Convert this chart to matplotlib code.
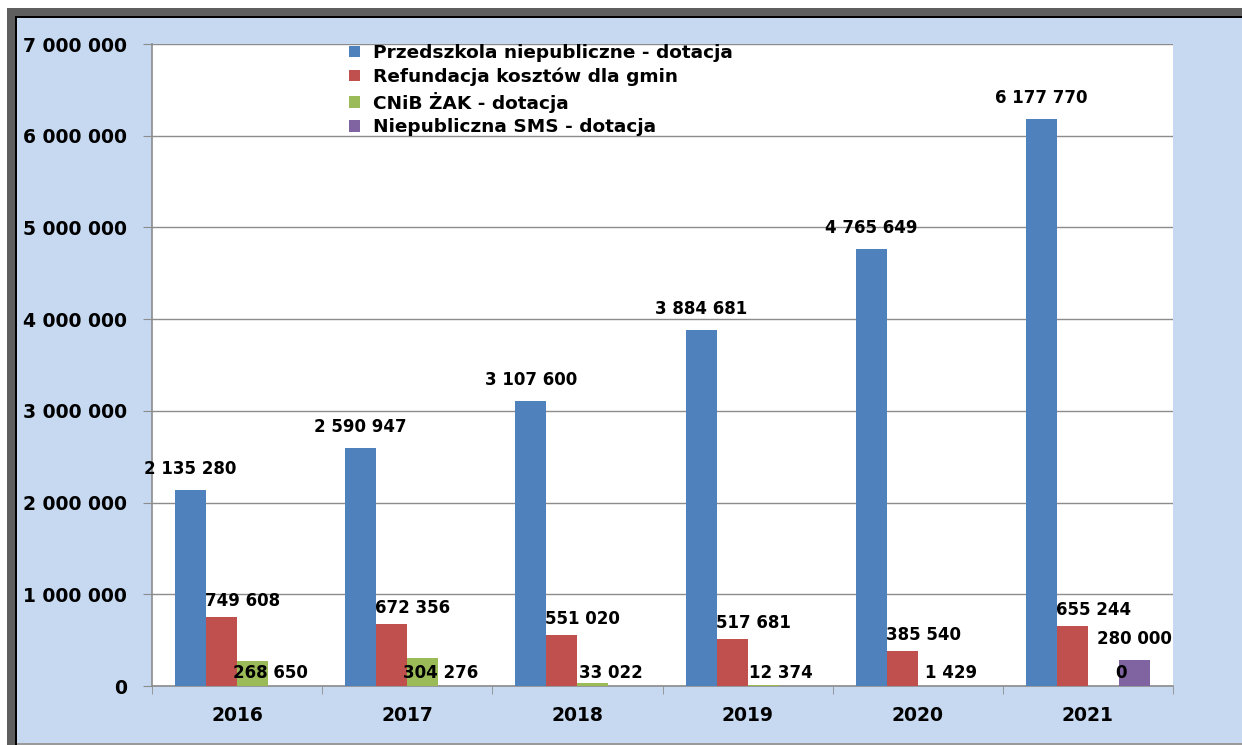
import numpy as np
import matplotlib
matplotlib.use("Agg")
import matplotlib.pyplot as plt
from matplotlib.patches import Rectangle

# Data
years = ["2016", "2017", "2018", "2019", "2020", "2021"]
series_names = ["Przedszkola niepubliczne - dotacja",
                "Refundacja kosztów dla gmin",
                "CNiB ŻAK - dotacja",
                "Niepubliczna SMS - dotacja"]
przedszkola = [2135280, 2590947, 3107600, 3884681, 4765649, 6177770]
refundacja = [749608, 672356, 551020, 517681, 385540, 655244]
cnib_zak = [268650, 304276, 33022, 12374, 1429, 0]
sms = [None, None, None, None, None, 280000]

colors = ["#4F81BD", "#C0504D", "#9BBB59", "#8064A2"]
bg = "#C6D9F1"

fig = plt.figure(figsize=(12.42, 7.45), dpi=100, facecolor=bg)
ax = fig.add_axes([152 / 1242, 1 - 686 / 745, 1021 / 1242, 642 / 745])
ax.set_facecolor("white")

x = np.arange(len(years))
w = 0.182
all_series = [przedszkola, refundacja, cnib_zak, sms]
# label offsets in pixels (dx, dy); green labels sit near the base
offsets = [(0, 21), (21, 16), (18, 13), (0, 21)]

for i, (vals, col) in enumerate(zip(all_series, colors)):
    xs = x + (i - 1.5) * w
    hv = [np.nan if v is None else v for v in vals]
    ax.bar(xs, hv, width=w, color=col, label=series_names[i], zorder=3)
    for xi, v in zip(xs, vals):
        if v is None:
            continue
        ybase = 0 if i == 2 else v
        ax.annotate(f"{v:,}".replace(",", " "), xy=(xi, ybase),
                    xytext=offsets[i], textcoords="offset pixels",
                    ha="center", va="center", fontsize=12,
                    fontweight="bold", color="black", zorder=5)

ax.set_xlim(-0.5, len(years) - 0.5)
ax.set_ylim(0, 7000000)
ticks = np.arange(0, 7000001, 1000000)
ax.set_yticks(ticks)
ax.set_yticklabels([f"{int(v):,}".replace(",", " ") for v in ticks],
                   fontsize=13.5, fontweight="bold")
ax.yaxis.grid(True, color="#8C8C8C", linewidth=1.0, zorder=0)
ax.tick_params(axis="y", length=6.5, color="#8C8C8C", pad=11.5)

ax.set_xticks(x)
ax.set_xticklabels(years, fontsize=13.5, fontweight="bold")
ax.set_xticks(np.arange(-0.5, len(years), 1), minor=True)
ax.tick_params(axis="x", which="major", length=0, pad=14.5)
ax.tick_params(axis="x", which="minor", length=5.8, color="#8C8C8C")

for s in ["top", "right"]:
    ax.spines[s].set_visible(False)
for s in ["left", "bottom"]:
    ax.spines[s].set_color("#8C8C8C")
    ax.spines[s].set_linewidth(1.2)

ax.legend(loc="upper left", bbox_to_anchor=(0.18, 1.02), frameon=False,
          prop={"size": 13.3, "weight": "bold"}, handlelength=0.6,
          handleheight=0.6, handletextpad=0.7, labelspacing=0.3,
          borderpad=0.2)

# screenshot frame on top and left
fig.patches.append(Rectangle((0, 1 - 18 / 745), 1, 10 / 745, transform=fig.transFigure,
                             facecolor="#5F5F5F", edgecolor="none"))
fig.patches.append(Rectangle((0, 1 - 18 / 745), 1, 2 / 745, transform=fig.transFigure,
                             facecolor="black", edgecolor="none"))
fig.patches.append(Rectangle((7 / 1242, 0), 10 / 1242, 1 - 8 / 745, transform=fig.transFigure,
                             facecolor="#5F5F5F", edgecolor="none"))
fig.patches.append(Rectangle((15 / 1242, 0), 2 / 1242, 1 - 16 / 745, transform=fig.transFigure,
                             facecolor="black", edgecolor="none"))
fig.patches.append(Rectangle((0, 1 - 8 / 745), 1, 8 / 745, transform=fig.transFigure,
                             facecolor="white", edgecolor="none"))
fig.patches.append(Rectangle((0, 0), 7 / 1242, 1, transform=fig.transFigure,
                             facecolor="white", edgecolor="none"))
fig.patches.append(Rectangle((17 / 1242, 0), 1, 2 / 745, transform=fig.transFigure,
                             facecolor="#9A9A9A", edgecolor="none"))

fig.savefig("out.png", dpi=100, facecolor=bg)
